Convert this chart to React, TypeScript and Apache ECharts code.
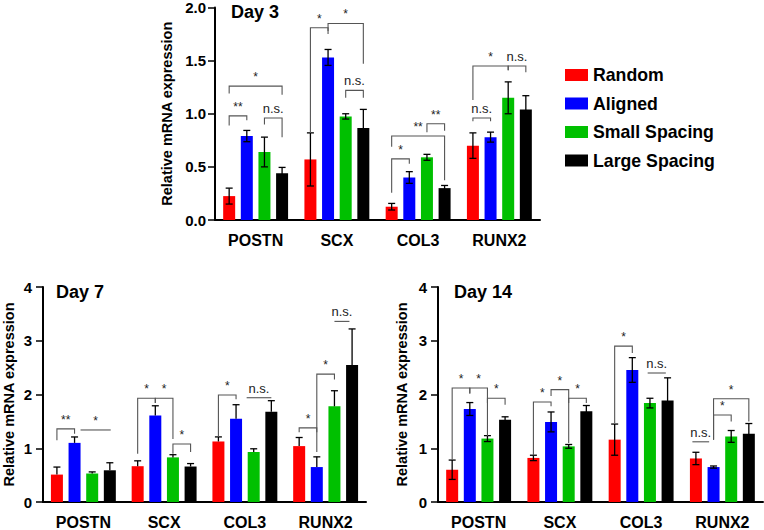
import React, { useEffect, useRef } from 'react';
import * as echarts from 'echarts';

const categories = ['POSTN', 'SCX', 'COL3', 'RUNX2'];
const groups = ['Random', 'Aligned', 'Small Spacing', 'Large Spacing'];
const groupColors = ['#ff0000', '#0000ff', '#00c000', '#000000'];
const dayTitles = ['Day 3', 'Day 7', 'Day 14'];
const yTitle = 'Relative mRNA expression';

// Day 3 (mean, SD)
const day3Random = [0.225, 0.57, 0.125, 0.70];
const day3Aligned = [0.79, 1.53, 0.40, 0.78];
const day3Small = [0.64, 0.975, 0.59, 1.15];
const day3Large = [0.44, 0.866, 0.30, 1.04];
const day3RandomSd = [0.075, 0.25, 0.031, 0.12];
const day3AlignedSd = [0.053, 0.075, 0.055, 0.047];
const day3SmallSd = [0.14, 0.025, 0.028, 0.15];
const day3LargeSd = [0.055, 0.175, 0.025, 0.13];

// Day 7 (mean, SD; only upper bars drawn)
const day7Random = [0.51, 0.666, 1.126, 1.04];
const day7Aligned = [1.10, 1.61, 1.55, 0.65];
const day7Small = [0.53, 0.83, 0.93, 1.78];
const day7Large = [0.59, 0.66, 1.68, 2.55];
const day7RandomSd = [0.14, 0.10, 0.085, 0.16];
const day7AlignedSd = [0.11, 0.18, 0.26, 0.19];
const day7SmallSd = [0.03, 0.05, 0.06, 0.29];
const day7LargeSd = [0.14, 0.055, 0.205, 0.67];

// Day 14 (mean, SD)
const day14Random = [0.60, 0.82, 1.16, 0.81];
const day14Aligned = [1.73, 1.49, 2.456, 0.65];
const day14Small = [1.18, 1.035, 1.84, 1.22];
const day14Large = [1.53, 1.69, 1.89, 1.27];
const day14RandomSd = [0.18, 0.05, 0.29, 0.115];
const day14AlignedSd = [0.12, 0.185, 0.23, 0.02];
const day14SmallSd = [0.055, 0.035, 0.09, 0.11];
const day14LargeSd = [0.055, 0.105, 0.42, 0.19];

// Significance brackets: [category, fromBar, toBar, level, leftDropTo, rightDropTo, label]
type Bracket = [number, number, number, number, number | null, number | null, string];
const day3Brackets: Bracket[] = [
  [0, 0, 3, 1.26, 1.19, 1.18, '*'],
  [0, 0, 1, 0.98, 0.89, 0.94, '**'],
  [0, 2, 3, 0.96, 0.90, 0.78, 'n.s.'],
  [1, 0, 1, 1.81, 0.82, 1.75, '*'],
  [1, 1, 3, 1.85, 1.78, 1.47, '*'],
  [1, 2, 3, 1.22, 1.15, 1.15, 'n.s.'],
  [2, 0, 1, 0.575, 0.256, 0.53, '*'],
  [2, 0, 3, 0.79, 0.69, 0.375, '**'],
  [2, 2, 3, 0.906, 0.825, 0.84, '**'],
  [3, 0, 2, 1.45, 1.13, 1.41, '*'],
  [3, 2, 3, 1.45, 1.41, 1.39, 'n.s.'],
  [3, 0, 1, 0.96, 0.93, 0.93, 'n.s.'],
];
const day7Brackets: Bracket[] = [
  [0, 0, 1, 1.36, 1.15, 1.27, '**'],
  [0, 1.34, 3.05, 1.34, null, null, '*'],
  [1, 0, 1, 1.93, 0.9, 1.84, '*'],
  [1, 1, 2, 1.93, 1.84, 1.17, '*'],
  [1, 2, 3, 1.08, 0.9, 0.93, '*'],
  [2, 0, 1, 1.99, 1.21, 1.91, '*'],
  [2, 1.6, 3.0, 1.94, null, null, 'n.s.'],
  [3, 0, 1, 1.38, 1.3, 1.3, '*'],
  [3, 1, 2, 2.38, 0.93, 2.28, '*'],
  [3, 2.0, 2.85, 3.36, null, null, 'n.s.'],
];
const day14Brackets: Bracket[] = [
  [0, 0, 1, 2.12, 0.79, 2.02, '*'],
  [0, 1, 2, 2.12, 2.02, 1.23, '*'],
  [0, 2, 3, 1.93, 1.84, 1.81, '*'],
  [1, 0, 1, 1.86, 0.87, 1.78, '*'],
  [1, 1, 2, 2.09, 1.97, 1.10, '*'],
  [1, 2, 3, 1.93, 1.84, 1.84, '*'],
  [2, 0, 1, 2.90, 1.47, 2.77, '*'],
  [2, 1.87, 2.9, 2.40, null, null, 'n.s.'],
  [3, -0.2, 0.75, 1.12, null, null, 'n.s.'],
  [3, 1, 2, 1.62, 1.16, 1.5, '*'],
  [3, 1, 3, 1.92, 1.16, 1.5, '*'],
];

const BAR_W = 12;
const BAR_GAP = 0.47;
const BAR_STEP = BAR_W * (1 + BAR_GAP);
const CAP = 3.5;
const FONT = '"Liberation Sans", Arial, sans-serif';

const panels = [
  {
    means: [day3Random, day3Aligned, day3Small, day3Large],
    sds: [day3RandomSd, day3AlignedSd, day3SmallSd, day3LargeSd],
    brackets: day3Brackets, upOnly: false, max: 2, interval: 0.5, digits: 1,
    grid: { left: 215, top: 7, width: 325, height: 213 }, nameGap: 41, labelMargin: 9,
    title: { left: 231, top: 3 },
  },
  {
    means: [day7Random, day7Aligned, day7Small, day7Large],
    sds: [day7RandomSd, day7AlignedSd, day7SmallSd, day7LargeSd],
    brackets: day7Brackets, upOnly: true, max: 4, interval: 1, digits: 0,
    grid: { left: 40, top: 287, width: 326, height: 215 }, nameGap: 27, labelMargin: 11,
    title: { left: 56, top: 283 },
  },
  {
    means: [day14Random, day14Aligned, day14Small, day14Large],
    sds: [day14RandomSd, day14AlignedSd, day14SmallSd, day14LargeSd],
    brackets: day14Brackets, upOnly: false, max: 4, interval: 1, digits: 0,
    grid: { left: 438, top: 287, width: 325, height: 215 }, nameGap: 29, labelMargin: 11,
    title: { left: 454, top: 283 },
  },
];

function buildOption() {
  const grid: any[] = [];
  const xAxis: any[] = [];
  const yAxis: any[] = [];
  const title: any[] = [];
  const series: any[] = [];

  panels.forEach((p, pi) => {
    grid.push({ ...p.grid, containLabel: false });
    title.push({
      text: dayTitles[pi], left: p.title.left, top: p.title.top, padding: 0,
      textStyle: { fontFamily: FONT, fontWeight: 'bold', fontSize: 18, color: '#000' },
    });
    xAxis.push({
      type: 'category', gridIndex: pi, data: categories,
      axisLine: { lineStyle: { color: '#000', width: 2 } },
      axisTick: { alignWithLabel: true, length: 8, lineStyle: { color: '#000', width: 1.5 } },
      axisLabel: { margin: 12, fontFamily: FONT, fontWeight: 'bold', fontSize: 16, color: '#000' },
      splitLine: { show: false },
    });
    yAxis.push({
      type: 'value', gridIndex: pi, min: 0, max: p.max, interval: p.interval,
      name: yTitle, nameLocation: 'middle', nameGap: p.nameGap,
      nameTextStyle: { fontFamily: FONT, fontWeight: 'bold', fontSize: 14.5, color: '#000' },
      axisLine: { show: true, lineStyle: { color: '#000', width: 2 } },
      axisTick: { show: true, length: 7, lineStyle: { color: '#000', width: 1.5 } },
      axisLabel: {
        margin: p.labelMargin, fontFamily: FONT, fontWeight: 'bold', fontSize: 15, color: '#000',
        formatter: (v: number) => v.toFixed(p.digits),
      },
      splitLine: { show: false },
    });

    groups.forEach((g, gi) => {
      series.push({
        type: 'bar', name: g, xAxisIndex: pi, yAxisIndex: pi,
        data: p.means[gi], barWidth: BAR_W, barGap: `${BAR_GAP * 100}%`,
        itemStyle: { color: groupColors[gi] },
      });
    });

    const errItems: number[][] = [];
    groups.forEach((_, gi) => {
      categories.forEach((__, ci) => {
        errItems.push([ci, p.means[gi][ci], p.sds[gi][ci], gi]);
      });
    });
    series.push({
      type: 'custom', xAxisIndex: pi, yAxisIndex: pi, z: 5, silent: true,
      data: errItems.map((d) => [d[0], d[1]]),
      encode: { x: 0, y: 1 },
      renderItem: (params: any, api: any) => {
        const [c, m, s, g] = errItems[params.dataIndex];
        const off = (g - 1.5) * BAR_STEP;
        const top = api.coord([c, m + s]);
        const bot = api.coord([c, p.upOnly ? m : m - s]);
        const x = top[0] + off;
        const st = { stroke: '#000', lineWidth: 1.3 };
        const children: any[] = [
          { type: 'line', shape: { x1: x, y1: top[1], x2: x, y2: bot[1] }, style: st },
          { type: 'line', shape: { x1: x - CAP, y1: top[1], x2: x + CAP, y2: top[1] }, style: st },
        ];
        if (!p.upOnly) {
          children.push({ type: 'line', shape: { x1: x - CAP, y1: bot[1], x2: x + CAP, y2: bot[1] }, style: st });
        }
        return { type: 'group', children };
      },
    });

    series.push({
      type: 'custom', xAxisIndex: pi, yAxisIndex: pi, z: 6, silent: true,
      data: p.brackets.map((b) => [b[0], b[3]]),
      encode: { x: 0, y: 1 },
      renderItem: (params: any, api: any) => {
        const b = p.brackets[params.dataIndex];
        const base = api.coord([b[0], b[3]]);
        const xL = base[0] + (b[1] - 1.5) * BAR_STEP;
        const xR = base[0] + (b[2] - 1.5) * BAR_STEP;
        const yy = base[1];
        const pts: number[][] = [];
        if (b[4] != null) pts.push([xL, api.coord([b[0], b[4]])[1]]);
        pts.push([xL, yy]);
        pts.push([xR, yy]);
        if (b[5] != null) pts.push([xR, api.coord([b[0], b[5]])[1]]);
        const isNs = b[6] === 'n.s.';
        return {
          type: 'group',
          children: [
            { type: 'polyline', shape: { points: pts }, style: { stroke: '#555', lineWidth: 1.1, fill: 'none' } },
            {
              type: 'text', x: (xL + xR) / 2, y: yy - 3,
              style: {
                text: b[6], align: 'center', verticalAlign: 'bottom',
                fontFamily: FONT, fontSize: isNs ? 13 : 12, fill: '#222',
              },
            },
          ],
        };
      },
    });
  });

  return {
    animation: false,
    backgroundColor: '#fff',
    title,
    grid,
    xAxis,
    yAxis,
    legend: {
      data: groups.map((g) => ({ name: g, icon: 'rect' })),
      orient: 'vertical', left: 565, top: 66, padding: 0,
      itemWidth: 23, itemHeight: 12, itemGap: 10.5,
      textStyle: { fontFamily: FONT, fontWeight: 'bold', fontSize: 17.7, color: '#000' },
      selectedMode: false,
    },
    series,
  };
}

export default function App() {
  const ref = useRef<HTMLDivElement>(null);
  useEffect(() => {
    if (!ref.current) return;
    const chart = echarts.init(ref.current, null, { renderer: 'svg' });
    chart.setOption(buildOption() as any);
    return () => chart.dispose();
  }, []);
  return (
    <div
      ref={ref}
      style={{ position: 'fixed', left: 0, top: 0, width: 764, height: 530, background: '#fff' }}
    />
  );
}
